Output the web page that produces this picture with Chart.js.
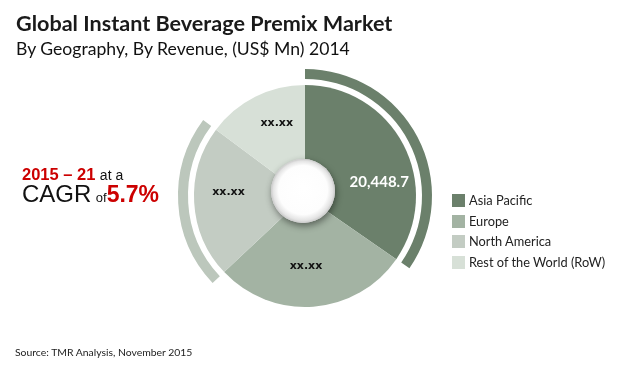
<!DOCTYPE html>
<html>
<head>
<meta charset="utf-8">
<script src="https://cdn.jsdelivr.net/npm/chart.js@4/dist/chart.umd.min.js"></script>
<style>
  html, body { margin: 0; padding: 0; background: #fff; }
  #wrap { position: relative; width: 620px; height: 365px; overflow: hidden; background: #fff; }
  #c { position: absolute; left: 0; top: 0; }
  .t { position: absolute; white-space: nowrap; line-height: 1; }
  #title { left: 16px; top: 10px; font: bold 21.6px Lato, sans-serif; color: #1a1a1a; }
  #subtitle { left: 16px; top: 38px; font: 17.6px Lato, sans-serif; color: #111; }
  #source { left: 15px; top: 346px; font: 10.4px Lato, sans-serif; color: #222; }
  #cagr1 { left: 22px; top: 166px; font-family: "Liberation Sans", Arial, sans-serif; }
  #cagr2 { left: 22px; top: 182px; font-family: "Liberation Sans", Arial, sans-serif; }
  .red { color: #cc0000; font-weight: bold; }
  .blk { color: #111; }
  #legend { position: absolute; left: 452px; top: 194px; }
  .li { position: relative; height: 20.5px; }
  .sw { position: absolute; left: 0; top: 0; width: 13px; height: 13px; }
  .lt { position: absolute; left: 17px; top: 0px; font: 12.8px Lato, sans-serif; color: #222; line-height: 1; white-space: nowrap; }
</style>
</head>
<body>
<div id="wrap">
  <canvas id="c" width="620" height="365"></canvas>
  <div class="t" id="title">Global Instant Beverage Premix Market</div>
  <div class="t" id="subtitle">By Geography, By Revenue, (US$ Mn) 2014</div>
  <div class="t" id="cagr1"><span class="red" style="font-size:16.5px">2015 – 21</span> <span class="blk" style="font-size:14px">at a</span></div>
  <div class="t" id="cagr2"><span class="blk" style="font-size:24px">CAGR</span> <span class="blk" style="font-size:13px">of</span><span class="red" style="font-size:23px">5.7%</span></div>
  <div id="legend"></div>
  <div class="t" id="source">Source: TMR Analysis, November 2015</div>
</div>
<script>
// ---- data ----
const regions = ["Asia Pacific", "Europe", "North America", "Rest of the World (RoW)"];
const revenue2014 = [20448.7, 16730, 13120, 8740];   // only Asia Pacific is published; others
const sliceLabels = ["20,448.7", "xx.xx", "xx.xx", "xx.xx"];

// ---- styling ----
const sliceColors = ["#6b806b", "#a3b3a3", "#c3ccc3", "#d7e0d7"];
const ringColors  = ["#6b806b", "rgba(0,0,0,0)", "#bcc7bc", "rgba(0,0,0,0)"];

// legend
const leg = document.getElementById('legend');
regions.forEach((r, i) => {
  const d = document.createElement('div'); d.className = 'li';
  const s = document.createElement('div'); s.className = 'sw'; s.style.background = sliceColors[i];
  const t = document.createElement('div'); t.className = 'lt'; t.textContent = r;
  d.appendChild(s); d.appendChild(t); leg.appendChild(d);
});

const labelPlugin = {
  id: 'sliceLabels',
  afterDatasetsDraw(chart, args, opts) {
    const meta = chart.getDatasetMeta(2);
    const ctx = chart.ctx;
    ctx.save();
    ctx.textAlign = 'center';
    ctx.textBaseline = 'middle';
    meta.data.forEach((arc, i) => {
      const p = arc.getProps(['x', 'y', 'startAngle', 'endAngle', 'outerRadius']);
      const a = (p.startAngle + p.endAngle) / 2 + opts.angleOffsets[i] * Math.PI / 180;
      const r = p.outerRadius * opts.radiusFactors[i];
      ctx.font = opts.fonts[i];
      ctx.fillStyle = opts.colors[i];
      ctx.fillText(sliceLabels[i], p.x + r * Math.cos(a), p.y + r * Math.sin(a));
    });
    // centre knob
    const p0 = meta.data[0].getProps(['x', 'y']);
    const cx = p0.x - 2, cy = p0.y - 5, cr = 32;
    ctx.save();
    ctx.shadowColor = 'rgba(0,0,0,0.45)';
    ctx.shadowBlur = 7;
    ctx.shadowOffsetX = 1;
    ctx.shadowOffsetY = 3;
    ctx.beginPath(); ctx.arc(cx, cy, cr, 0, Math.PI * 2);
    ctx.fillStyle = '#e6e6e6'; ctx.fill();
    ctx.restore();
    const g = ctx.createRadialGradient(cx, cy - 4, 2, cx, cy, cr);
    g.addColorStop(0, '#ffffff');
    g.addColorStop(0.75, '#fdfdfd');
    g.addColorStop(0.92, '#e4e4e4');
    g.addColorStop(1, '#c9c9c9');
    ctx.beginPath(); ctx.arc(cx, cy, cr, 0, Math.PI * 2);
    ctx.fillStyle = g; ctx.fill();
    ctx.restore();
  }
};

new Chart(document.getElementById('c'), {
  type: 'pie',
  data: {
    labels: regions,
    datasets: [
      { data: revenue2014, backgroundColor: ringColors, borderWidth: 0, weight: 10 },
      { data: revenue2014, backgroundColor: regions.map(() => 'rgba(0,0,0,0)'), borderWidth: 0, weight: 6 },
      { data: revenue2014, backgroundColor: sliceColors, borderWidth: 0, weight: 111 }
    ]
  },
  options: {
    responsive: false,
    animation: false,
    events: [],
    layout: { padding: { left: 178, right: 188, top: 69, bottom: 42 } },
    plugins: {
      legend: { display: false },
      tooltip: { enabled: false },
      sliceLabels: {
        angleOffsets: [17.3, 3.5, 6.2, 5.3],
        radiusFactors: [0.68, 0.63, 0.69, 0.70],
        fonts: ['bold 15px Lato, sans-serif', 'bold 11px "DejaVu Sans", sans-serif', 'bold 11px "DejaVu Sans", sans-serif', 'bold 11px "DejaVu Sans", sans-serif'],
        colors: ['#ffffff', '#111111', '#111111', '#111111']
      }
    }
  },
  plugins: [labelPlugin]
});
</script>
</body>
</html>
